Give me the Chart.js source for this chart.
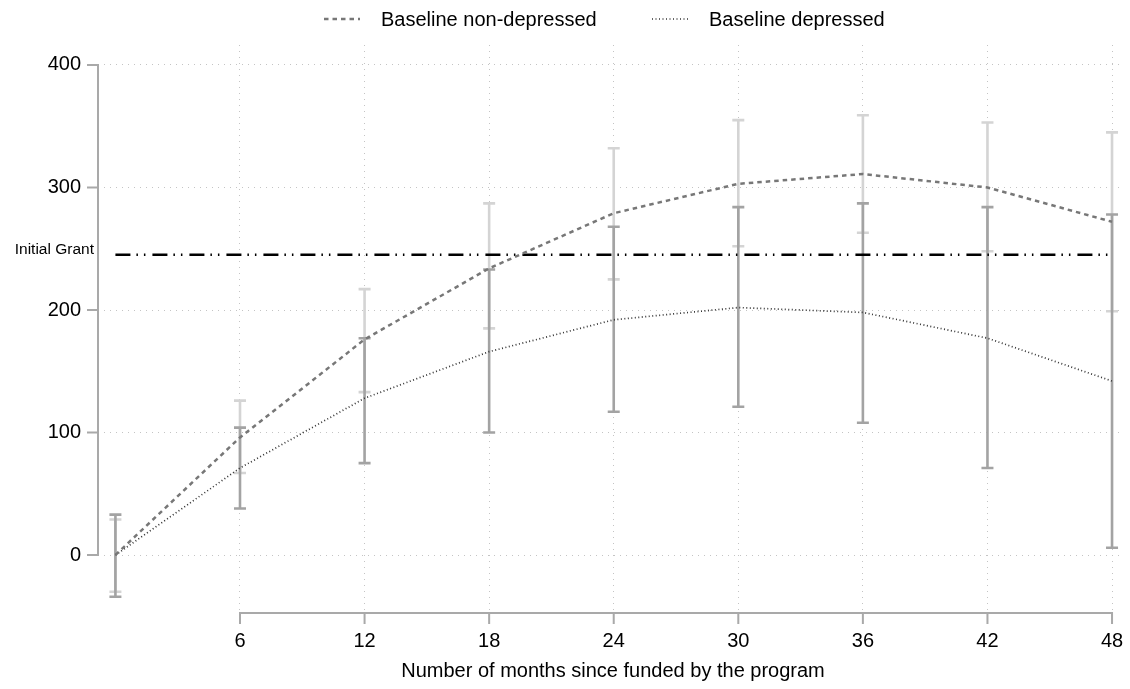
<!DOCTYPE html>
<html>
<head>
<meta charset="utf-8">
<script src="https://cdn.jsdelivr.net/npm/chart.js@4.4.1/dist/chart.umd.min.js"></script>
<style>
  html, body { margin: 0; padding: 0; background: #fff; }
  #wrap { width: 1130px; height: 689px; }
</style>
</head>
<body>
<div id="wrap"><canvas id="myChart"></canvas></div>
<script>
// data
const months = [0, 6, 12, 18, 24, 30, 36, 42, 48];
const nonDepressed = [0, 96, 176, 234, 279, 303, 311, 300, 272];
const nonDepressedLo = [-30, 67, 133, 185, 225, 252, 263, 248, 199];
const nonDepressedHi = [29, 126, 217, 287, 332, 355, 359, 353, 345];
const depressed = [0, 71, 128, 166, 192, 202, 198, 177, 142];
const depressedLo = [-34, 38, 75, 100, 117, 121, 108, 71, 6];
const depressedHi = [33, 104, 177, 233, 268, 284, 287, 284, 278];
const initialGrant = 245;
const grantLabel = "Initial Grant";
const xTicks = [6, 12, 18, 24, 30, 36, 42, 48];
const yTicks = [0, 100, 200, 300, 400];
const xTitle = "Number of months since funded by the program";

const FONT = "'Liberation Sans', Arial, sans-serif";
const axisColor = "#a9a9a9";
const gridColor = "#c4c4c4";

function points(ys) {
  return months.map((m, i) => ({ x: m, y: ys[i] }));
}

const legendItems = [
  { text: "Baseline non-depressed", color: "#777777", dash: [4.5, 4], width: 2.5, x: 324, textX: 381 },
  { text: "Baseline depressed", color: "#333333", dash: [1, 2.5], width: 1.7, x: 652, textX: 709 },
];

// error bars, drawn under the lines
const errorBars = {
  id: "errorBars",
  beforeDatasetsDraw(chart) {
    const { ctx, scales } = chart;
    const draw = (lo, hi, color) => {
      ctx.save();
      ctx.strokeStyle = color;
      ctx.lineWidth = 2.6;
      months.forEach((m, i) => {
        const px = scales.x.getPixelForValue(m);
        const y1 = scales.y.getPixelForValue(lo[i]);
        const y2 = scales.y.getPixelForValue(hi[i]);
        ctx.beginPath();
        ctx.moveTo(px, y1);
        ctx.lineTo(px, y2);
        ctx.moveTo(px - 6, y1);
        ctx.lineTo(px + 6, y1);
        ctx.moveTo(px - 6, y2);
        ctx.lineTo(px + 6, y2);
        ctx.stroke();
      });
      ctx.restore();
    };
    draw(nonDepressedLo, nonDepressedHi, "#d4d4d4");
    draw(depressedLo, depressedHi, "#a3a3a3");
  },
};

// stata-like axes (only over the tick range), grant label, legend
const decorations = {
  id: "decorations",
  afterDraw(chart) {
    const { ctx, scales } = chart;
    const xs = scales.x, ys = scales.y;
    ctx.save();
    ctx.strokeStyle = axisColor;
    ctx.lineWidth = 2;
    ctx.beginPath();
    const ax = 98;
    ctx.moveTo(ax, ys.getPixelForValue(yTicks[0]));
    ctx.lineTo(ax, ys.getPixelForValue(yTicks[yTicks.length - 1]));
    yTicks.forEach((v) => {
      const py = ys.getPixelForValue(v);
      ctx.moveTo(ax - 11, py);
      ctx.lineTo(ax + 1, py);
    });
    const ay = 613;
    ctx.moveTo(xs.getPixelForValue(xTicks[0]), ay);
    ctx.lineTo(xs.getPixelForValue(xTicks[xTicks.length - 1]), ay);
    xTicks.forEach((v) => {
      const px = xs.getPixelForValue(v);
      ctx.moveTo(px, ay - 1);
      ctx.lineTo(px, ay + 11);
    });
    ctx.stroke();

    ctx.fillStyle = "#000";
    ctx.font = "15.5px " + FONT;
    ctx.textAlign = "right";
    ctx.textBaseline = "middle";
    ctx.fillText(grantLabel, 94, ys.getPixelForValue(initialGrant) - 5);

    ctx.font = "20px " + FONT;
    ctx.textAlign = "left";
    legendItems.forEach((it) => {
      ctx.strokeStyle = it.color;
      ctx.lineWidth = it.width;
      ctx.setLineDash(it.dash);
      ctx.beginPath();
      ctx.moveTo(it.x, 19);
      ctx.lineTo(it.x + 36, 19);
      ctx.stroke();
      ctx.setLineDash([]);
      ctx.fillText(it.text, it.textX, 20);
    });
    ctx.restore();
  },
};

const ctx = document.getElementById("myChart");
const myChart = new Chart(ctx, {
  type: "line",
  data: {
    datasets: [
      {
        label: "Baseline non-depressed",
        data: points(nonDepressed),
        borderColor: "#777777",
        borderWidth: 2.5,
        borderDash: [4.5, 4],
        tension: 0,
        pointRadius: 0,
        fill: false,
      },
      {
        label: "Baseline depressed",
        data: points(depressed),
        borderColor: "#333333",
        borderWidth: 1.7,
        borderDash: [1, 2.5],
        tension: 0,
        pointRadius: 0,
        fill: false,
      },
      {
        label: grantLabel,
        data: [{ x: months[0], y: initialGrant }, { x: months[months.length - 1], y: initialGrant }],
        borderColor: "#000000",
        borderWidth: 2.5,
        borderDash: [15, 6, 1.5, 6, 1.5, 7],
        pointRadius: 0,
        fill: false,
      },
    ],
  },
  options: {
    responsive: true,
    maintainAspectRatio: false,
    animation: false,
    layout: { padding: { top: 45, right: 8, left: 0, bottom: 0 } },
    plugins: {
      legend: { display: false },
      tooltip: { enabled: false },
    },
    scales: {
      x: {
        type: "linear",
        min: -0.55,
        max: 48.48,
        afterBuildTicks: (scale) => {
          scale.ticks = xTicks.map((v) => ({ value: v }));
        },
        afterFit: (scale) => {
          scale.height = 77;
          scale.paddingLeft = 0;
          scale.paddingRight = 0;
        },
        grid: { color: gridColor, lineWidth: 1, drawTicks: false },
        border: { display: false, dash: [1, 5] },
        ticks: {
          color: "#000",
          font: { family: FONT, size: 20 },
          padding: 17,
          maxRotation: 0,
        },
        title: {
          display: true,
          text: xTitle,
          color: "#000",
          font: { family: FONT, size: 20 },
          padding: { top: 0, bottom: 6 },
        },
      },
      y: {
        min: -46.5,
        max: 416.3,
        afterBuildTicks: (scale) => {
          scale.ticks = yTicks.map((v) => ({ value: v }));
        },
        afterFit: (scale) => {
          scale.width = 104;
          scale.paddingTop = 0;
          scale.paddingBottom = 0;
        },
        grid: { color: gridColor, lineWidth: 1, drawTicks: false },
        border: { display: false, dash: [1, 5] },
        ticks: {
          color: "#000",
          font: { family: FONT, size: 20 },
          padding: 23,
        },
      },
    },
  },
  plugins: [errorBars, decorations],
});
</script>
</body>
</html>
